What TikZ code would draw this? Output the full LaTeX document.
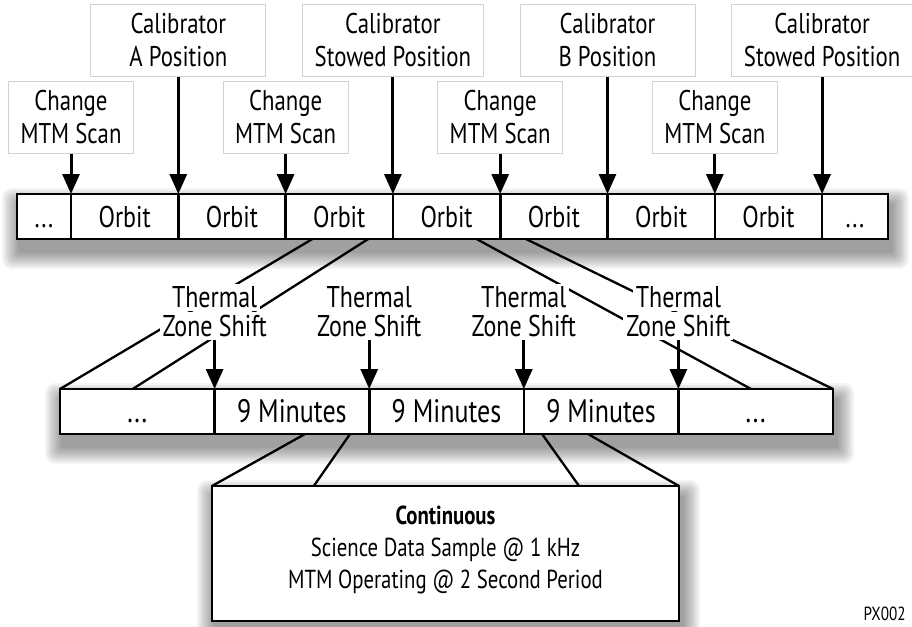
\documentclass[tikz,border=0pt]{standalone}
\usepackage{fontspec}
\setmainfont[FakeStretch=0.8]{PT Sans}
\usetikzlibrary{positioning,calc,arrows.meta}
\pgfdeclarelayer{background}
\pgfsetlayers{background,main}
\newcommand{\wbox}[1]{{\setlength{\fboxsep}{3pt}\colorbox{white}{#1}}}
\tikzset{
  cell/.style={draw, fill=white, line width=2.6pt, outer sep=0pt, inner sep=0pt,
    minimum height=45pt, text height=21pt, text depth=0pt, font=\fontsize{30}{34}\selectfont},
  tag/.style={draw=gray!35, fill=white, line width=1pt, align=center, inner xsep=12pt,
    minimum height=72pt, font=\fontsize{28.5}{33}\selectfont},
  zone/.style={inner sep=0pt, align=center, font=\fontsize{30}{29}\selectfont},
  evt/.style={line width=3pt, -{Triangle[width=17pt,length=20pt]}},
  zoomline/.style={line width=2.3pt},
}
\begin{document}
\begin{tikzpicture}[x=1pt, y=-1pt]
\useasboundingbox (0,0) rectangle (912,626);
% orbit bar
\node[cell, minimum width=54pt] (o0) at (44,216.5) {...};
\foreach \i in {1,...,7}
  \node[cell, minimum width=107.3pt] (o\i) at ({71+(\i-0.5)*107.3},216.5) {Orbit};
\node[cell, minimum width=66pt] (o8) at (855,216.5) {...};
% minutes bar
\node[cell, minimum width=154.6pt, font=\fontsize{32.5}{34}\selectfont] (m0) at (137.3,411.5) {...};
\foreach \k in {1,2,3}
  \node[cell, minimum width=154.6pt, font=\fontsize{32.5}{34}\selectfont] (m\k) at ({60+(\k+0.5)*154.6},411.5) {9 Minutes};
\node[cell, minimum width=154.6pt, font=\fontsize{32.5}{34}\selectfont] (m4) at (755.7,411.5) {...};
% data box
\node[draw, fill=white, line width=2.6pt, outer sep=0pt, minimum width=467pt, minimum height=135pt,
  align=center, font=\fontsize{26}{32}\selectfont] (cont) at (445.5,553.5)
  {\textbf{Continuous}\\Science Data Sample @ 1 kHz\\MTM Operating @ 2 Second Period\\[-20pt]};
% shadows
\begin{pgfonlayer}{background}
\fill[white] (0,0) rectangle (912,626);
\foreach \a/\b in {o0/o8,m0/m4,cont/cont}
  \foreach \s in {1,...,10}
    \fill[black, opacity=0.045, rounded corners=\s pt]
      ($(\a.north west)+(3-1.8*\s,12-1.8*\s)$) rectangle ($(\b.south east)+(3+1.8*\s,12+1.8*\s)$);
\end{pgfonlayer}
% zoom lines
\draw[zoomline] ($(o3.south west)!0.25!(o3.south east)$) -- (m0.north west);
\draw[zoomline] ($(o3.south west)!0.77!(o3.south east)$) -- ($(m0.north west)!0.47!(m0.north east)$);
\draw[zoomline] ($(o4.south west)!0.78!(o4.south east)$) -- ($(m4.north west)!0.47!(m4.north east)$);
\draw[zoomline] ($(o5.south west)!0.24!(o5.south east)$) -- (m4.north east);
\draw[zoomline] ($(m1.south west)!0.585!(m1.south east)$) -- (cont.north west);
\draw[zoomline] ($(m1.south west)!0.876!(m1.south east)$) -- ($(cont.north west)!0.218!(cont.north east)$);
\draw[zoomline] ($(m3.south west)!0.118!(m3.south east)$) -- ($(cont.north west)!0.786!(cont.north east)$);
\draw[zoomline] ($(m3.south west)!0.415!(m3.south east)$) -- (cont.north east);
% thermal zone shifts
\foreach \k in {1,...,4}{
  \node[zone] (t\k) at ($(m\k.north west)+(0,-77)$) {\wbox{Thermal}\\\wbox{Zone Shift}};
  \draw[evt] (t\k.south) -- (m\k.north west);
}
% MTM scan changes
\foreach \i/\n in {0/1,2/2,4/3,6/4}{
  \node[tag, minimum width=123pt, above=40pt of o\i.north east] (chg\n) {Change\\MTM Scan};
  \draw[evt] (chg\n.south) -- (o\i.north east);
}
% calibrator moves
\foreach \i/\n/\t in {1/1/A Position,3/2/Stowed Position,5/3/B Position,7/4/Stowed Position}{
  \node[tag, minimum width=175pt, above=117pt of o\i.north east] (cal\n) {Calibrator\\\t};
  \draw[evt] (cal\n.south) -- (o\i.north east);
}
\node[font=\fontsize{19}{20}\selectfont, anchor=base west] (px) at (860,620) {PX002};
\end{tikzpicture}
\end{document}
